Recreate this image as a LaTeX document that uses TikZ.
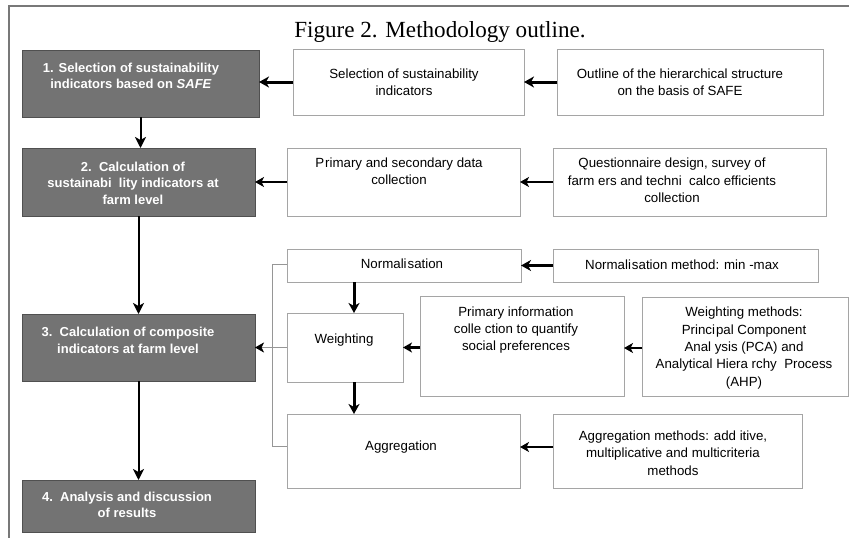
\documentclass[tikz,border=0pt]{standalone}
\usepackage{fontspec}
\setmainfont{Liberation Sans}
\newfontfamily\titlefont{Liberation Serif}
\usetikzlibrary{arrows.meta,calc}
\definecolor{boxgray}{RGB}{115,115,115}
\definecolor{boxedge}{RGB}{80,80,80}
\definecolor{wedge}{RGB}{165,165,165}
\definecolor{framegray}{RGB}{120,120,120}
\definecolor{thingray}{RGB}{150,150,150}
\begin{document}
\begin{tikzpicture}[x=1pt,y=-1pt,
  gbox/.style={draw=boxedge, fill=boxgray, line width=0.8pt, inner sep=0pt, outer sep=0pt},
  wbox/.style={draw=wedge, fill=white, line width=0.8pt, inner sep=0pt, outer sep=0pt},
  gtxt/.style={text=white, font=\fontsize{13}{16.5}\selectfont\bfseries, align=center, inner sep=0pt},
  wtxt/.style={font=\fontsize{13.3}{17.3}\selectfont, align=center, inner sep=0pt},
  bigarr/.style={line width=3pt, -{Stealth[length=10pt,width=11pt,inset=3pt]}},
  midarr/.style={line width=2.2pt, -{Stealth[length=9pt,width=10pt,inset=2.5pt]}},
  vararr/.style={line width=2pt, -{Stealth[length=11pt,width=11pt,inset=3pt]}},
  thinarr/.style={line width=0.7pt, draw=thingray, -{Stealth[length=9pt,width=10pt,inset=2.5pt,color=black]}},
  bracket/.style={line width=0.7pt, draw=thingray},
  framestyle/.style={line width=1.4pt, draw=framegray}
]
\useasboundingbox (0,0) rectangle (849,538);
\fill[white] (0,0) rectangle (849,538);
% frame
\draw[framestyle] (849,6) -- (9,6) -- (9,538);
% title
\node[font=\titlefont\fontsize{23.1}{27}\selectfont, anchor=base, inner sep=0pt] (title) at (440,37) {Figure 2. Methodology outline.};

% row 1
\node[gbox, minimum width=237pt, minimum height=67pt] (G1) at (140.5,83.5) {};
\node[wbox, minimum width=231pt, minimum height=66pt] (S1) at (408.5,82) {};
\node[wbox, minimum width=266pt, minimum height=66pt] (O1) at (690,82) {};
\node[gtxt] (tG1) at (131,76) {1. Selection of sustainability\\indicators based on \textit{SAFE}};
\node[wtxt] (tS1) at (404,82) {Selection of sustainability\\indicators};
\node[wtxt] (tO1) at (680,82) {Outline of the hierarchical structure\\on the basis of SAFE};

% row 2
\node[gbox, minimum width=233pt, minimum height=68pt] (G2) at (138.5,182) {};
\node[wbox, minimum width=233pt, minimum height=68pt] (P2) at (403.5,182) {};
\node[wbox, minimum width=273pt, minimum height=68pt] (Q2) at (689.5,182) {};
\node[gtxt] (tG2) at (133,183) {2.\ \ Calculation of\\sustainabi\ \ lity indicators at\\farm level};
\node[wtxt] (tP2) at (399,171.5) {P\kern1pt rimary and secondary data\\collection};
\node[wtxt] (tQ2) at (672,180.5) {Questionnaire design, survey of\\farm ers and techni\ \ calco efficients\\collection};

% row 3 area
\node[wbox, minimum width=234pt, minimum height=33pt] (N) at (404,265.5) {};
\node[wbox, minimum width=265pt, minimum height=33pt] (NM) at (685.5,265.5) {};
\node[wbox, minimum width=116pt, minimum height=69pt] (W) at (345,347.5) {};
\node[wbox, minimum width=204pt, minimum height=100pt] (PI) at (522,346) {};
\node[wbox, minimum width=206pt, minimum height=99pt] (WM) at (745,346.5) {};
\node[gbox, minimum width=233pt, minimum height=67pt] (G3) at (138.5,347.5) {};
\node[wbox, minimum width=233pt, minimum height=74pt] (A) at (403.5,451) {};
\node[wbox, minimum width=249pt, minimum height=74pt] (AM) at (677.5,451) {};
\node[gbox, minimum width=233pt, minimum height=52pt] (G4) at (138.5,506) {};

\node[wtxt] (tN) at (402,264) {Normali\kern1pt sation};
\node[wtxt] (tNM) at (682,265) {Normali\kern1pt sation method: min -max};
\node[wtxt] (tW) at (344,340) {Weighting};
\node[wtxt] (tPI) at (516,330) {Primary information\\colle ction to quantify\\social preferences};
\node[wtxt] (tWM) at (744,348) {Weighting methods:\\Princi\kern1pt pal Component\\Anal ysis (PCA) and\\Analytical Hiera rchy\ \ Process\\(AHP)};
\node[gtxt] (tG3) at (128,340.5) {3.\ \ Calculation of composite\\indicators at farm level};
\node[wtxt] (tA) at (401,447) {Aggregation};
\node[wtxt] (tAM) at (673,453) {Aggregation methods: add itive,\\multiplicative and multicriteria\\methods};
\node[gtxt] (tG4) at (127,505) {4.\ \ Analysis and discussion\\of results};

% bracket
\draw[bracket] ([yshift=1.5pt]N.west) -- ++(-15,0) |- ([yshift=5pt]A.west);

% arrows
\draw[bigarr] (S1.west) -- (S1.west -| G1.east);
\draw[bigarr] (O1.west) -- (O1.west -| S1.east);
\draw[midarr] (P2.west) -- (P2.west -| G2.east);
\draw[midarr] (Q2.west) -- (Q2.west -| P2.east);
\draw[bigarr] (NM.west) -- (NM.west -| N.east);
\draw[midarr] ([yshift=-1.5pt]PI.west) -- ([yshift=-1.5pt]PI.west -| W.east);
\draw[midarr] ([yshift=-1.5pt]WM.west) -- ([yshift=-1.5pt]WM.west -| PI.east);
\draw[midarr] ([yshift=4pt]AM.west) -- ([yshift=4pt]AM.west -| A.east);
\draw[thinarr] (W.west) -- (W.west -| G3.east);
\draw[bigarr] ([xshift=9pt]W.north |- N.south) -- ([xshift=9pt]W.north);
\draw[bigarr] ([xshift=9pt]W.south) -- ([xshift=9pt]W.south |- A.north);
\draw[vararr] (G1.south) -- (G1.south |- G2.north);
\draw[vararr] (G2.south) -- (G3.north);
\draw[vararr] (G3.south) -- (G4.north);
\end{tikzpicture}
\end{document}
